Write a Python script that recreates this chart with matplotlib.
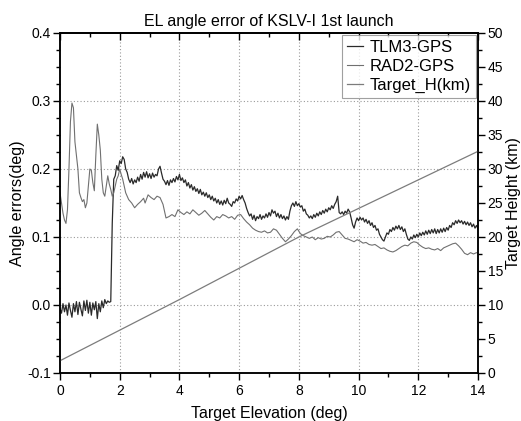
import numpy as np
import matplotlib
matplotlib.use("Agg")
import matplotlib.pyplot as plt
from matplotlib.ticker import MultipleLocator

plt.rcParams['font.family'] = ['Liberation Sans', 'DejaVu Sans']

# TLM3-GPS, sampled every 0.05 deg from 0 to 14 (10 values per row = 0.5 deg)
tlm3 = [
    -0.005, -0.012, 0.002, -0.010, 0.000, -0.015, 0.003, -0.008, -0.018, 0.002,
    -0.010, 0.005, -0.014, 0.004, -0.006, -0.016, 0.006, -0.008, 0.007, -0.012,
    0.004, -0.015, 0.003, -0.007, 0.005, -0.020, 0.002, -0.010, 0.006, -0.004,
    0.008, 0.002, 0.006, 0.004, 0.005, 0.120, 0.185, 0.190, 0.205, 0.198,
    0.212, 0.208, 0.218, 0.214, 0.200, 0.195, 0.185, 0.180, 0.186, 0.178,
    0.184, 0.180, 0.188, 0.182, 0.192, 0.185, 0.195, 0.188, 0.196, 0.187,
    0.193, 0.186, 0.194, 0.188, 0.192, 0.190, 0.200, 0.204, 0.194, 0.185,
    0.182, 0.177, 0.183, 0.176, 0.184, 0.180, 0.186, 0.181, 0.189, 0.184,
    0.192, 0.183, 0.187, 0.180, 0.184, 0.175, 0.180, 0.172, 0.177, 0.169,
    0.174, 0.167, 0.171, 0.164, 0.170, 0.162, 0.166, 0.160, 0.165, 0.158,
    0.162, 0.155, 0.160, 0.153, 0.157, 0.150, 0.155, 0.148, 0.153, 0.147,
    0.154, 0.149, 0.157, 0.150, 0.148, 0.145, 0.152, 0.150, 0.156, 0.153,
    0.160, 0.156, 0.161, 0.155, 0.150, 0.142, 0.136, 0.131, 0.134, 0.126,
    0.132, 0.124, 0.130, 0.127, 0.133, 0.126, 0.131, 0.128, 0.134, 0.129,
    0.136, 0.131, 0.140, 0.135, 0.138, 0.130, 0.135, 0.128, 0.133, 0.127,
    0.131, 0.125, 0.130, 0.126, 0.138, 0.146, 0.150, 0.145, 0.152, 0.146,
    0.149, 0.144, 0.146, 0.138, 0.141, 0.134, 0.132, 0.128, 0.131, 0.127,
    0.133, 0.129, 0.135, 0.131, 0.137, 0.133, 0.139, 0.135, 0.141, 0.137,
    0.143, 0.140, 0.146, 0.142, 0.148, 0.152, 0.160, 0.136, 0.134, 0.137,
    0.133, 0.138, 0.135, 0.141, 0.137, 0.128, 0.118, 0.113, 0.122, 0.128,
    0.124, 0.129, 0.125, 0.128, 0.122, 0.126, 0.120, 0.124, 0.117, 0.121,
    0.114, 0.117, 0.110, 0.112, 0.104, 0.100, 0.096, 0.094, 0.100, 0.106,
    0.104, 0.111, 0.108, 0.114, 0.110, 0.116, 0.112, 0.117, 0.111, 0.115,
    0.108, 0.112, 0.104, 0.097, 0.095, 0.100, 0.097, 0.103, 0.099, 0.104,
    0.100, 0.106, 0.102, 0.107, 0.103, 0.109, 0.104, 0.110, 0.105, 0.111,
    0.106, 0.112, 0.105, 0.111, 0.106, 0.112, 0.107, 0.113, 0.108, 0.114,
    0.110, 0.117, 0.114, 0.121, 0.118, 0.124, 0.120, 0.125, 0.121, 0.124,
    0.119, 0.123, 0.118, 0.122, 0.117, 0.121, 0.115, 0.119, 0.113, 0.117,
    0.112,
]
tlm3_elev = np.linspace(0, 14, len(tlm3))

# RAD2-GPS read points
rad2_elev = [
    0.00, 0.05, 0.10, 0.15, 0.20, 0.25, 0.30, 0.35, 0.40, 0.45,
    0.50, 0.55, 0.60, 0.65, 0.70, 0.75, 0.80, 0.85, 0.90, 0.95,
    1.00, 1.05, 1.10, 1.15, 1.20, 1.25, 1.30, 1.35, 1.40, 1.45,
    1.50, 1.55, 1.60, 1.65, 1.70, 1.75, 1.80, 1.85, 1.90, 1.95,
    2.00, 2.05, 2.10, 2.15, 2.20, 2.30, 2.40, 2.50, 2.60, 2.70,
    2.80, 2.85, 2.95, 3.05, 3.15, 3.25, 3.35, 3.45, 3.55, 3.65,
    3.75, 3.85, 3.95, 4.05, 4.15, 4.25, 4.35, 4.45, 4.55, 4.65,
    4.75, 4.85, 4.95, 5.05, 5.15, 5.25, 5.35, 5.45, 5.55, 5.65,
    5.75, 5.85, 5.95, 6.05, 6.15, 6.25, 6.35, 6.45, 6.55, 6.65,
    6.75, 6.85, 6.95, 7.05, 7.15, 7.25, 7.35, 7.45, 7.55, 7.65,
    7.75, 7.85, 7.95, 8.05, 8.15, 8.25, 8.35, 8.45, 8.55, 8.65,
    8.75, 8.85, 8.95, 9.05, 9.15, 9.25, 9.35, 9.45, 9.55, 9.65,
    9.75, 9.85, 9.95, 10.05, 10.15, 10.25, 10.35, 10.45, 10.55, 10.65,
    10.75, 10.85, 10.95, 11.05, 11.15, 11.25, 11.35, 11.45, 11.55, 11.65,
    11.75, 11.85, 11.95, 12.05, 12.15, 12.25, 12.35, 12.45, 12.55, 12.65,
    12.75, 12.85, 12.95, 13.05, 13.15, 13.25, 13.35, 13.45, 13.55, 13.65,
    13.75, 13.85, 13.95, 14.00,
]
rad2 = [
    0.165, 0.150, 0.135, 0.125, 0.120, 0.140, 0.200, 0.270, 0.297, 0.290,
    0.240, 0.220, 0.200, 0.165, 0.158, 0.152, 0.155, 0.143, 0.150, 0.175,
    0.200, 0.198, 0.180, 0.168, 0.220, 0.266, 0.250, 0.228, 0.185, 0.165,
    0.160, 0.175, 0.190, 0.178, 0.170, 0.160, 0.165, 0.175, 0.185, 0.190,
    0.200, 0.192, 0.185, 0.175, 0.165, 0.155, 0.150, 0.143, 0.148, 0.152,
    0.157, 0.150, 0.162, 0.158, 0.155, 0.160, 0.158, 0.148, 0.128, 0.130,
    0.133, 0.130, 0.140, 0.136, 0.133, 0.137, 0.134, 0.140, 0.136, 0.132,
    0.135, 0.139, 0.134, 0.129, 0.125, 0.130, 0.128, 0.133, 0.131, 0.128,
    0.130, 0.126, 0.132, 0.133, 0.127, 0.122, 0.118, 0.113, 0.110, 0.108,
    0.107, 0.109, 0.106, 0.107, 0.112, 0.110, 0.104, 0.098, 0.093, 0.097,
    0.102, 0.108, 0.112, 0.105, 0.102, 0.100, 0.098, 0.100, 0.096, 0.099,
    0.097, 0.098, 0.101, 0.100, 0.103, 0.107, 0.108, 0.103, 0.098, 0.097,
    0.095, 0.093, 0.096, 0.094, 0.091, 0.092, 0.089, 0.088, 0.089, 0.086,
    0.083, 0.084, 0.081, 0.079, 0.078, 0.080, 0.083, 0.086, 0.088, 0.087,
    0.091, 0.093, 0.092, 0.088, 0.085, 0.083, 0.084, 0.082, 0.081, 0.083,
    0.080, 0.084, 0.086, 0.088, 0.090, 0.091, 0.087, 0.082, 0.076, 0.074,
    0.077, 0.075, 0.077, 0.076,
]

# Target height (km)
target_elev = [0, 4, 8, 14]
target_h = [1.8, 10.8, 20.0, 32.6]

fig = plt.figure(figsize=(5.21, 4.21), dpi=100)
ax = fig.add_axes([60/521, 48/421, 418/521, 340/421])
ax2 = ax.twinx()

l1, = ax.plot(tlm3_elev, tlm3, color='#2a2a2a', lw=0.9, label='TLM3-GPS')
l2, = ax.plot(rad2_elev, rad2, color='#707070', lw=0.8, label='RAD2-GPS')
l3, = ax2.plot(target_elev, target_h, color='#7c7c7c', lw=0.9, label='Target_H(km)')

ax.set_xlim(0, 14)
ax.set_ylim(-0.1, 0.4)
ax2.set_ylim(0, 50)

ax.xaxis.set_major_locator(MultipleLocator(2))
ax.xaxis.set_minor_locator(MultipleLocator(1))
ax.yaxis.set_major_locator(MultipleLocator(0.1))
ax.yaxis.set_minor_locator(MultipleLocator(0.025))
ax2.yaxis.set_major_locator(MultipleLocator(5))
ax2.yaxis.set_minor_locator(MultipleLocator(2.5))

ax.set_yticks([-0.1, 0.0, 0.1, 0.2, 0.3, 0.4])
ax.set_yticklabels(['-0.1', '0.0', '0.1', '0.2', '0.3', '0.4'])

# bottom/left/right ticks outward, top ticks inward
ax.tick_params(axis='x', which='both', direction='out', bottom=True, top=False,
               labelsize=10, pad=3)
ax.tick_params(axis='y', which='both', direction='out', right=False,
               labelsize=10, pad=1.5)
ax2.tick_params(axis='y', which='both', direction='out', labelsize=10, pad=2)
ax.tick_params(which='major', length=5, width=1)
ax.tick_params(which='minor', length=3, width=1)
ax2.tick_params(which='major', length=5, width=1)
ax2.tick_params(which='minor', length=3, width=1)

axt = ax.secondary_xaxis('top')
axt.xaxis.set_major_locator(MultipleLocator(2))
axt.xaxis.set_minor_locator(MultipleLocator(1))
axt.tick_params(axis='x', which='both', direction='in', labeltop=False)
axt.tick_params(which='major', length=5, width=1)
axt.tick_params(which='minor', length=3, width=1)
axt.spines['top'].set_linewidth(1.1)

for xv in [2, 4, 6, 8, 10, 12]:
    ax.axvline(xv, color='#9a9a9a', lw=0.8, ls=(0, (1, 2)), zorder=0)
for yv in [0.0, 0.1, 0.2, 0.3]:
    ax.axhline(yv, color='#9a9a9a', lw=0.8, ls=(0, (1, 2)), zorder=0)

for sp in list(ax.spines.values()) + list(ax2.spines.values()):
    sp.set_linewidth(1.1)

ax.set_title('EL angle error of KSLV-I 1st launch', fontsize=11.5, pad=5)
ax.set_xlabel('Target Elevation (deg)', fontsize=11.5, labelpad=6)
ax.set_ylabel('Angle errors(deg)', fontsize=11.6)
ax2.set_ylabel('Target Height (km)', fontsize=11.5)
ax.yaxis.set_label_coords(-0.084, 0.5)
ax2.yaxis.set_label_coords(1.066, 0.5)

leg = ax2.legend([l1, l2, l3], ['TLM3-GPS', 'RAD2-GPS', 'Target_H(km)'],
                 loc='upper right', fontsize=12, frameon=True, fancybox=False,
                 handlelength=1.0, handletextpad=0.4, borderpad=0.3,
                 labelspacing=0.25, borderaxespad=0.1)
leg.get_frame().set_edgecolor('#888888')
leg.get_frame().set_linewidth(0.8)

fig.savefig('out.png', dpi=100)
